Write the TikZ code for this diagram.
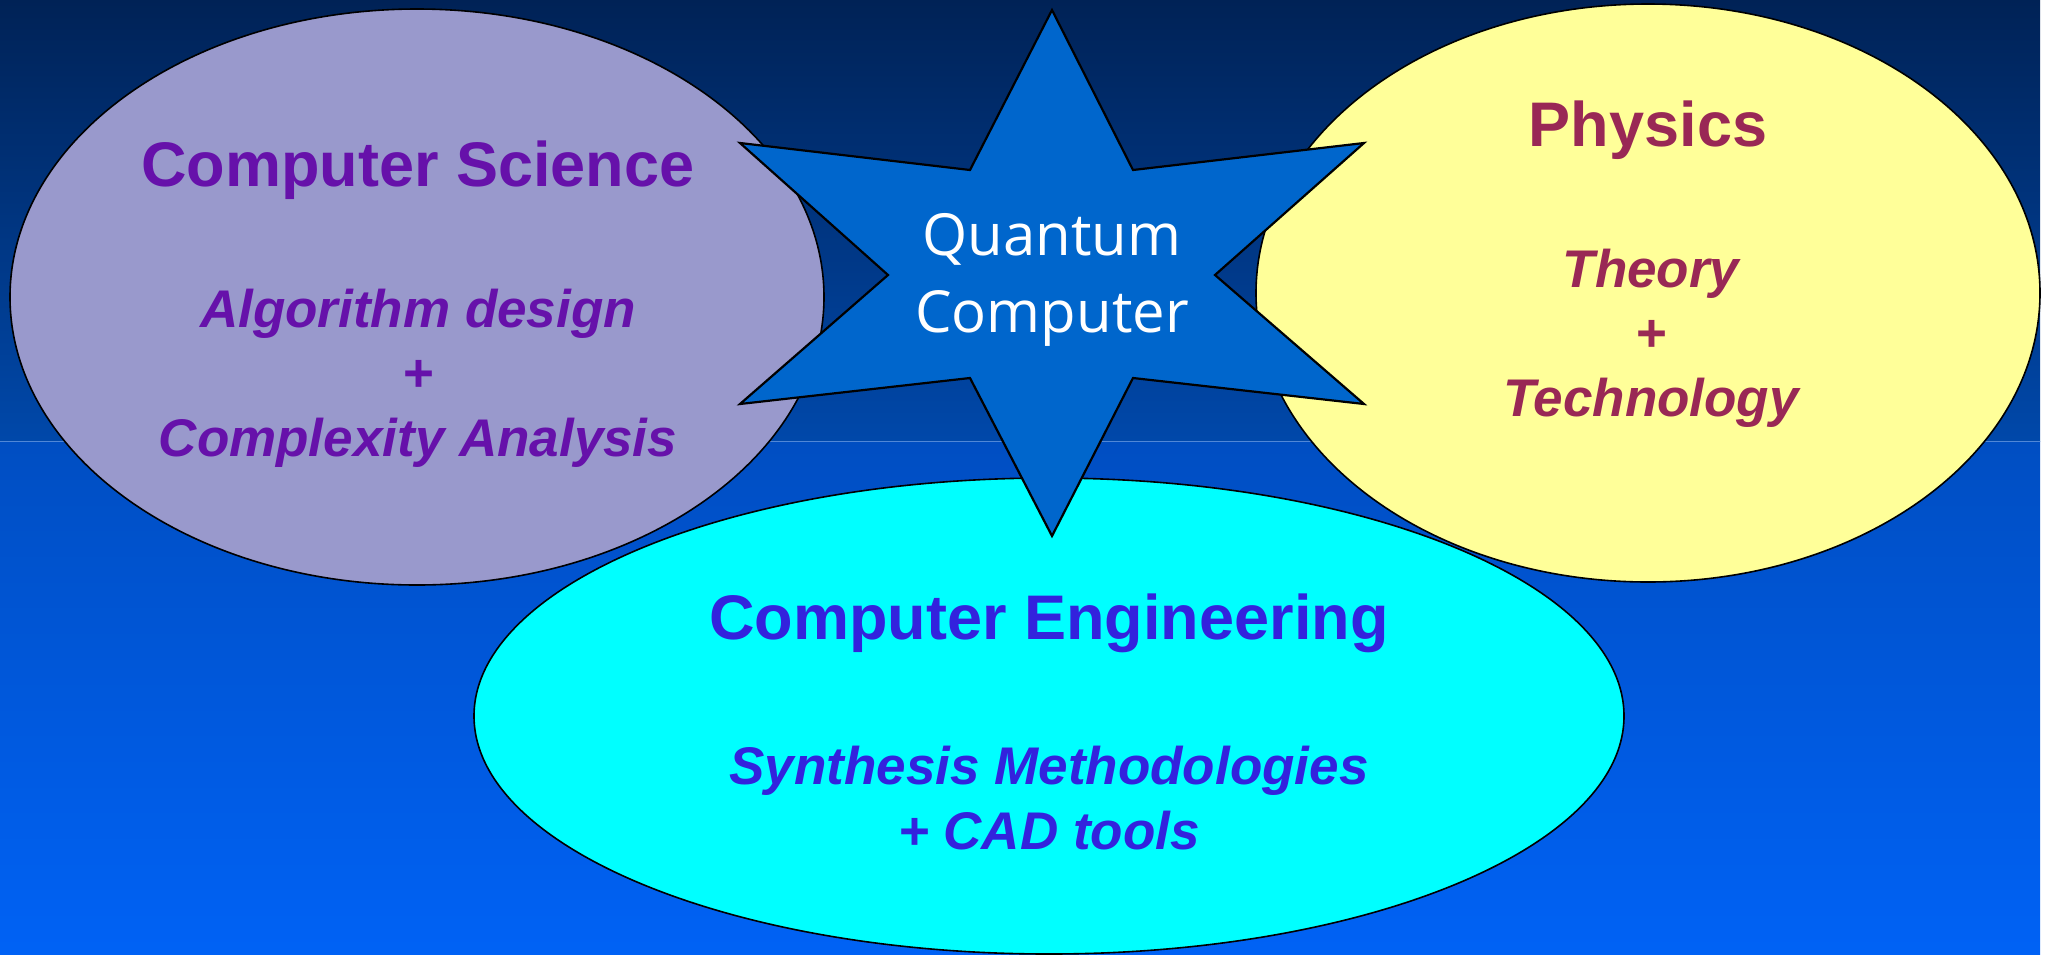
\documentclass[tikz,border=0pt]{standalone}
\usepackage{fontspec}
\setmainfont{Liberation Sans}
\newfontfamily\qcfont{Open Sans}
\usetikzlibrary{shapes.geometric}

\definecolor{bgtop}{RGB}{0,34,86}
\definecolor{bgmid}{RGB}{0,72,170}
\definecolor{bglow}{RGB}{0,78,194}
\definecolor{bgbot}{RGB}{0,98,245}
\definecolor{bgline}{RGB}{80,135,215}
\definecolor{csfill}{RGB}{153,153,204}
\definecolor{phfill}{RGB}{255,255,153}
\definecolor{cefill}{RGB}{0,255,255}
\definecolor{starfill}{RGB}{0,102,204}
\definecolor{cstext}{RGB}{102,17,170}
\definecolor{phtext}{RGB}{153,40,85}
\definecolor{cetext}{RGB}{51,34,221}

\begin{document}
\begin{tikzpicture}[x=1pt,y=-1pt]
    \tikzstyle{every node}+=[inner sep=0pt]
    \tikzstyle{oval}=[ellipse, draw=black, line width=1.6pt]
    \tikzstyle{title}=[font=\bfseries\fontsize{63}{76}\selectfont]
    \tikzstyle{topic}=[font=\bfseries\itshape\fontsize{53}{64.5}\selectfont, align=center]
    \useasboundingbox (0,0) rectangle (2051,954);
    \fill [white] (0,0) rectangle (2051,954);
    \shade [top color=bgtop, bottom color=bgmid] (0,0) rectangle (2040,441);
    \shade [top color=bglow, bottom color=bgbot] (0,441) rectangle (2040,954);
    \draw [bgline, line width=1pt] (0,441) -- (2040,441);
    \node [oval, fill=csfill, minimum width=814pt, minimum height=576pt] (csoval) at (417,297) {};
    \node [oval, fill=phfill, minimum width=784pt, minimum height=578pt] (phoval) at (1648,293) {};
    \node [oval, fill=cefill, minimum width=1150pt, minimum height=476pt] (ceoval) at (1049,716) {};
    \node [title, text=cstext] (cstitle) at (418,170) {Computer Science};
    \node [topic, text=cstext] (cstopic) at (418,378) {Algorithm design\\+\\Complexity Analysis};
    \node [title, text=phtext] (phtitle) at (1648,130) {Physics};
    \node [topic, text=phtext] (phtopic) at (1651,338) {Theory\\+\\Technology};
    \node [title, text=cetext] (cetitle) at (1049,623) {Computer Engineering};
    \node [topic, text=cetext] (cetopic) at (1049,798) {Synthesis Methodologies\\+ CAD tools};
    \draw [black, line width=2.2pt, fill=starfill, line join=miter]
        (1052,10) -- (1133,170) -- (1364,143) -- (1215,275) -- (1364,404) -- (1133,378)
        -- (1052,536) -- (970,378) -- (740,404) -- (888,275) -- (740,143) -- (970,170) -- cycle;
    \node [text=white, font=\qcfont\fontsize{58}{77}\selectfont, align=center] (qctext) at (1052,280) {Quantum\\Computer};
\end{tikzpicture}
\end{document}
